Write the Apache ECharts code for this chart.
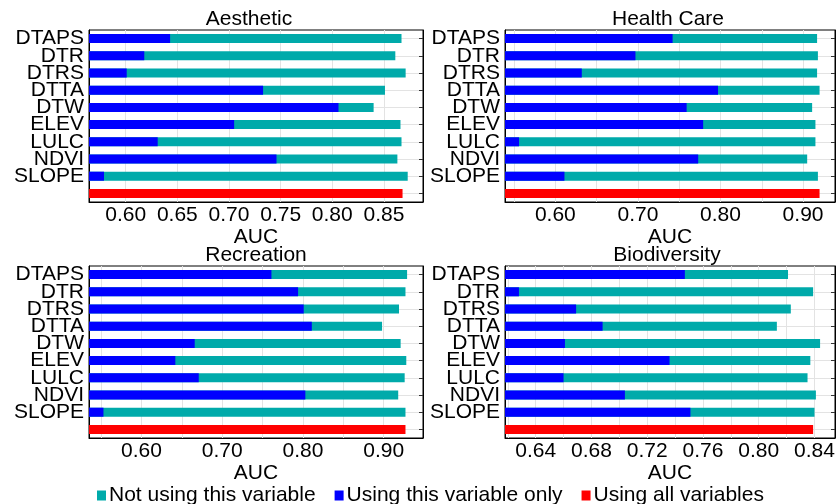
<!DOCTYPE html>
<html>
<head>
<meta charset="utf-8">
<script src="https://cdn.jsdelivr.net/npm/echarts@6/dist/echarts.min.js"></script>
<style>
  html, body { margin: 0; padding: 0; background: #fff; }
  #main { width: 838px; height: 504px; }
</style>
</head>
<body>
<div id="main"></div>
<script>
// variable names on the y axis (the red bar sits in an extra unlabeled row)
var categories = ['DTAPS', 'DTR', 'DTRS', 'DTTA', 'DTW', 'ELEV', 'LULC', 'NDVI', 'SLOPE'];

// AUC values per panel
var aestheticNot  = [0.867, 0.861, 0.871, 0.851, 0.840, 0.866, 0.867, 0.863, 0.873];
var aestheticOnly = [0.643, 0.618, 0.601, 0.733, 0.806, 0.705, 0.631, 0.746, 0.579];
var aestheticAll  = 0.868;

var healthNot  = [0.917, 0.918, 0.917, 0.920, 0.911, 0.915, 0.915, 0.905, 0.918];
var healthOnly = [0.742, 0.697, 0.632, 0.797, 0.759, 0.779, 0.556, 0.773, 0.611];
var healthAll  = 0.920;

var recreationNot  = [0.929, 0.927, 0.919, 0.898, 0.921, 0.928, 0.926, 0.918, 0.927];
var recreationOnly = [0.761, 0.794, 0.801, 0.811, 0.666, 0.642, 0.671, 0.803, 0.553];
var recreationAll  = 0.927;

var bioNot  = [0.821, 0.839, 0.823, 0.813, 0.844, 0.837, 0.835, 0.841, 0.840];
var bioOnly = [0.747, 0.628, 0.669, 0.688, 0.661, 0.736, 0.660, 0.704, 0.751];
var bioAll  = 0.839;

var panels = [
    {title: 'Aesthetic',    not: aestheticNot,  only: aestheticOnly,  all: aestheticAll, titleX: 244, titleY: 4,
     grid: {left: 89, top: 30, width: 334, height: 172}, min: 0.5645, max: 0.8878, step: 0.05, labelStep: 0.05},
    {title: 'Health Care',  not: healthNot,     only: healthOnly,     all: healthAll, titleX: 663, titleY: 4,
     grid: {left: 505, top: 30, width: 334, height: 172}, min: 0.539, max: 0.9387, step: 0.05, labelStep: 0.1},
    {title: 'Recreation',   not: recreationNot, only: recreationOnly, all: recreationAll, titleX: 251, titleY: 240,
     grid: {left: 89, top: 266, width: 334, height: 172}, min: 0.5351, max: 0.9487, step: 0.05, labelStep: 0.1},
    {title: 'Biodiversity', not: bioNot,        only: bioOnly,        all: bioAll, titleX: 662, titleY: 240,
     grid: {left: 505, top: 266, width: 334, height: 172}, min: 0.618, max: 0.8547, step: 0.02, labelStep: 0.04}
];

var FONT = 'Liberation Sans, Arial, sans-serif';
var FS = 21;
var TEAL = '#00aaaa', BLUE = '#0000ff', RED = '#ff0000';

var rows = categories.concat(['']);
var titles = [], grids = [], xAxes = [], yAxes = [], series = [];

panels.forEach(function (p, i) {
    titles.push({
        text: p.title,
        left: p.titleX,
        top: p.titleY,
        textAlign: 'center',
        textStyle: {fontFamily: FONT, fontSize: FS, fontWeight: 'normal', color: '#000'}
    });
    grids.push({
        left: p.grid.left, top: p.grid.top, width: p.grid.width, height: p.grid.height,
        show: true, borderColor: '#000', borderWidth: 1, containLabel: false
    });
    var ls = p.labelStep;
    xAxes.push({
        type: 'value', gridIndex: i, min: p.min, max: p.max,
        minInterval: p.step, maxInterval: p.step,
        name: 'AUC', nameLocation: 'middle', nameGap: 19,
        nameTextStyle: {fontFamily: FONT, fontSize: FS, color: '#000'},
        axisLine: {show: true, lineStyle: {color: '#000'}},
        axisTick: {show: false},
        axisLabel: {
            fontFamily: FONT, fontSize: FS, color: '#000', margin: 3,
            formatter: function (v) {
                var k = v / ls;
                return Math.abs(k - Math.round(k)) < 1e-6 ? v.toFixed(2) : '';
            }
        },
        splitLine: {show: true, lineStyle: {color: '#e3e3e3'}}
    });
    yAxes.push({
        type: 'category', gridIndex: i, data: rows, inverse: true,
        axisLine: {show: true, lineStyle: {color: '#000'}},
        axisTick: {show: false},
        axisLabel: {fontFamily: FONT, fontSize: FS, color: '#000', margin: 5, interval: 0},
        splitLine: {show: true, interval: 0, alignWithLabel: true, lineStyle: {color: '#e3e3e3'}}
    });
    yAxes.push({
        type: 'category', gridIndex: i, data: rows, inverse: true, position: 'right',
        axisLine: {show: true, lineStyle: {color: '#000'}},
        axisTick: {show: true, inside: true, length: 4, interval: 0, alignWithLabel: true, lineStyle: {color: '#333'}},
        axisLabel: {show: false},
        splitLine: {show: false}
    });

    var allData = categories.map(function () { return '-'; }).concat([p.all]);
    series.push({
        name: 'Not using this variable', type: 'bar', xAxisIndex: i, yAxisIndex: 2 * i,
        data: p.not.concat(['-']), barWidth: 9, barGap: '-100%', itemStyle: {color: TEAL}
    });
    series.push({
        name: 'Using this variable only', type: 'bar', xAxisIndex: i, yAxisIndex: 2 * i,
        data: p.only.concat(['-']), barWidth: 9, barGap: '-100%', itemStyle: {color: BLUE}
    });
    series.push({
        name: 'Using all variables', type: 'bar', xAxisIndex: i, yAxisIndex: 2 * i,
        data: allData, barWidth: 9, barGap: '-100%', itemStyle: {color: RED}
    });
});

var dom = document.getElementById('main');
var myChart = echarts.init(dom, null, {renderer: 'canvas'});
var option = {
    backgroundColor: '#fff',
    animation: false,
    title: titles,
    legend: {
        data: ['Not using this variable', 'Using this variable only', 'Using all variables'],
        left: 92, top: 480,
        icon: 'rect', itemWidth: 9, itemHeight: 10, itemGap: 19,
        textStyle: {fontFamily: FONT, fontSize: FS, color: '#000', padding: [0, 0, 0, -2]}
    },
    grid: grids,
    xAxis: xAxes,
    yAxis: yAxes,
    series: series
};

if (option && typeof option === "object") {
    myChart.setOption(option, true);
}
</script>
</body>
</html>
